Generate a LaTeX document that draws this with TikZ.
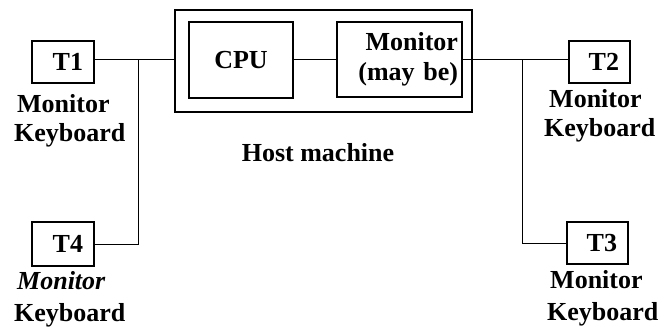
\documentclass[tikz,border=0pt]{standalone}
\usepackage{fontspec}
\setmainfont{Liberation Serif}
\begin{document}
\begin{tikzpicture}[x=1pt,y=-1pt,
  every node/.style={font=\fontsize{26}{30}\selectfont\bfseries},
  box/.style={draw,line width=1.1pt,rectangle,inner sep=0pt},
  term/.style={box,minimum height=42pt,text width=40pt,inner xsep=11pt,align=right},
  lbl/.style={anchor=west,align=left,inner sep=0pt,font=\fontsize{26}{29}\selectfont\bfseries},
  wire/.style={line width=0.9pt}]
\useasboundingbox (0,0) rectangle (663,327);
% host
\node[box,minimum width=297pt,minimum height=102pt] (host) at (323.5,61) {};
\node[box,minimum width=104pt,minimum height=76pt] (cpu) at (241,60) {CPU};
\node[box,minimum width=125pt,minimum height=75pt,text width=117pt,align=right,inner xsep=4pt] (mon) at (399.5,59.5) {Monitor\\(may be)};
\node[inner sep=0pt] (hostlbl) at (318,153) {Host machine};
% terminals
\node[term] (t1) at (63,62) {T1};
\node[term,text width=39pt] (t2) at (599.5,62) {T2};
\node[term,text width=39pt] (t3) at (597.5,243) {T3};
\node[term,minimum height=44pt] (t4) at (63,244) {T4};
% labels
\node[lbl] (l1) at (14,121) {\hspace{3pt}Monitor\\Keyboard};
\node[lbl] (l2) at (544,115.5) {\hspace{5pt}Monitor\\Keyboard};
\node[lbl,font=\fontsize{26}{32}\selectfont\bfseries] (l3) at (547,298.5) {\hspace{3pt}Monitor\\Keyboard};
\node[lbl,font=\fontsize{26}{32}\selectfont\bfseries] (l4) at (14,299) {\hspace{3pt}\textit{Monitor}\\Keyboard};
% junctions
\coordinate (jl) at (138,59);
\coordinate (jr) at (522,59);
% wires
\draw[wire] (t1.east |- jl) -- (host.west |- jl);
\draw[wire] (jl) |- (t4.east);
\draw[wire] (cpu.east |- jl) -- (mon.west |- jl);
\draw[wire] (mon.east |- jl) -- (t2.west |- jl);
\draw[wire] (jr) |- (t3.west);
\end{tikzpicture}
\end{document}
